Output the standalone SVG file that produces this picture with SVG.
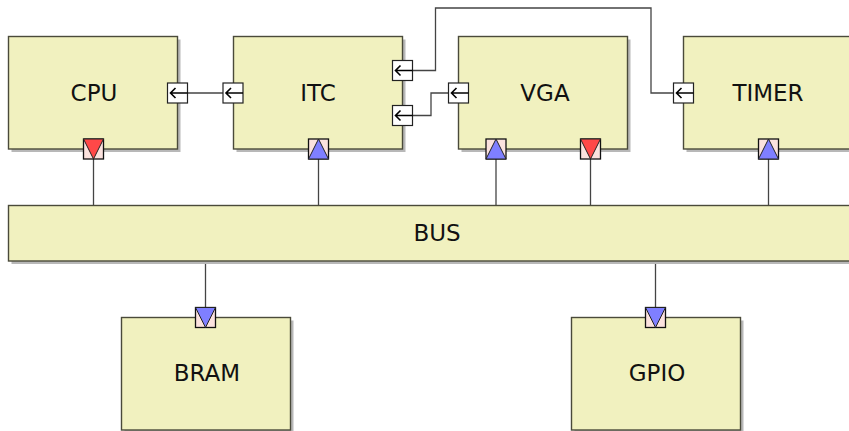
<svg xmlns="http://www.w3.org/2000/svg" width="849" height="431" viewBox="0 0 849 431">
<defs>
<style>
.shadow{fill:#b8b8b8}
.box{fill:#f1f1bf;stroke:#4a4a3a;stroke-width:1.4}
.lbl{font-family:"DejaVu Sans",sans-serif;font-size:23px;fill:#111;text-anchor:middle;dominant-baseline:central}
.wire{fill:none;stroke:#444;stroke-width:1.3}
.pbox{fill:#ffffff;stroke:#222;stroke-width:1.2}
.parr{fill:none;stroke:#000;stroke-width:1.6}
.tbox{fill:#fbe2de;stroke:#111;stroke-width:1.3}
.tout{fill:#ff4848;stroke:#222;stroke-width:1}
.tin{fill:#7f7fff;stroke:#222;stroke-width:1}
</style>
<g id="inport">
<rect class="pbox" x="0" y="0" width="20" height="20"/>
<path class="parr" d="M3,10 H20 M8,5 L3,10 L8,15"/>
</g>
<g id="outtri">
<rect class="tbox" x="0" y="0" width="20" height="20"/>
<path class="tout" d="M0,0 L20,0 L10,20 Z"/>
</g>
<g id="intri">
<rect class="tbox" x="0" y="0" width="20" height="20"/>
<path class="tin" d="M10,0 L20,20 L0,20 Z"/>
</g>
<g id="intridown">
<rect class="tbox" x="0" y="0" width="20" height="20"/>
<path class="tin" d="M0,0 L20,0 L10,20 Z"/>
</g>
</defs>
<g id="connectors">
<path class="wire" d="M188,93 H223"/>
<path class="wire" d="M412.5,70.5 H435.5 V8 H651 V93 H673.5"/>
<path class="wire" d="M412.5,115.5 H431 V93 H448.5"/>
<path class="wire" d="M93.5,159 V205.5"/>
<path class="wire" d="M318.5,159 V205.5"/>
<path class="wire" d="M496,159 V205.5"/>
<path class="wire" d="M590.5,159 V205.5"/>
<path class="wire" d="M768.5,159 V205.5"/>
<path class="wire" d="M205.5,261 V307.5"/>
<path class="wire" d="M655.5,261 V307.5"/>
</g>
<g id="BUS">
<rect class="shadow" x="11.5" y="208.5" width="857" height="55.5"/>
<rect class="box" x="8.5" y="205.5" width="857" height="55.5"/>
<text class="lbl" x="437" y="233">BUS</text>
</g>
<g id="CPU">
<rect class="shadow" x="11.5" y="39.5" width="169" height="112.5"/>
<rect class="box" x="8.5" y="36.5" width="169" height="112.5"/>
<text class="lbl" x="94" y="93">CPU</text>
<use href="#inport" x="167.5" y="83"/>
<use href="#outtri" x="83.5" y="139"/>
</g>
<g id="ITC">
<rect class="shadow" x="236.5" y="39.5" width="169" height="112.5"/>
<rect class="box" x="233.5" y="36.5" width="169" height="112.5"/>
<text class="lbl" x="318" y="93">ITC</text>
<use href="#inport" x="223" y="83"/>
<use href="#inport" x="392.5" y="60.5"/>
<use href="#inport" x="392.5" y="105.5"/>
<use href="#intri" x="308.5" y="139"/>
</g>
<g id="VGA">
<rect class="shadow" x="461.5" y="39.5" width="169" height="112.5"/>
<rect class="box" x="458.5" y="36.5" width="169" height="112.5"/>
<text class="lbl" x="545" y="93">VGA</text>
<use href="#inport" x="448.5" y="83"/>
<use href="#intri" x="486" y="139"/>
<use href="#outtri" x="580.5" y="139"/>
</g>
<g id="TIMER">
<rect class="shadow" x="686.5" y="39.5" width="169" height="112.5"/>
<rect class="box" x="683.5" y="36.5" width="169" height="112.5"/>
<text class="lbl" x="768" y="93">TIMER</text>
<use href="#inport" x="673.5" y="83"/>
<use href="#intri" x="758.5" y="139"/>
</g>
<g id="BRAM">
<rect class="shadow" x="124.5" y="320.5" width="169" height="112.5"/>
<rect class="box" x="121.5" y="317.5" width="169" height="112.5"/>
<text class="lbl" x="207" y="373">BRAM</text>
<use href="#intridown" x="195.5" y="307.5"/>
</g>
<g id="GPIO">
<rect class="shadow" x="574.5" y="320.5" width="169" height="112.5"/>
<rect class="box" x="571.5" y="317.5" width="169" height="112.5"/>
<text class="lbl" x="657" y="373">GPIO</text>
<use href="#intridown" x="645.5" y="307.5"/>
</g>
</svg>
